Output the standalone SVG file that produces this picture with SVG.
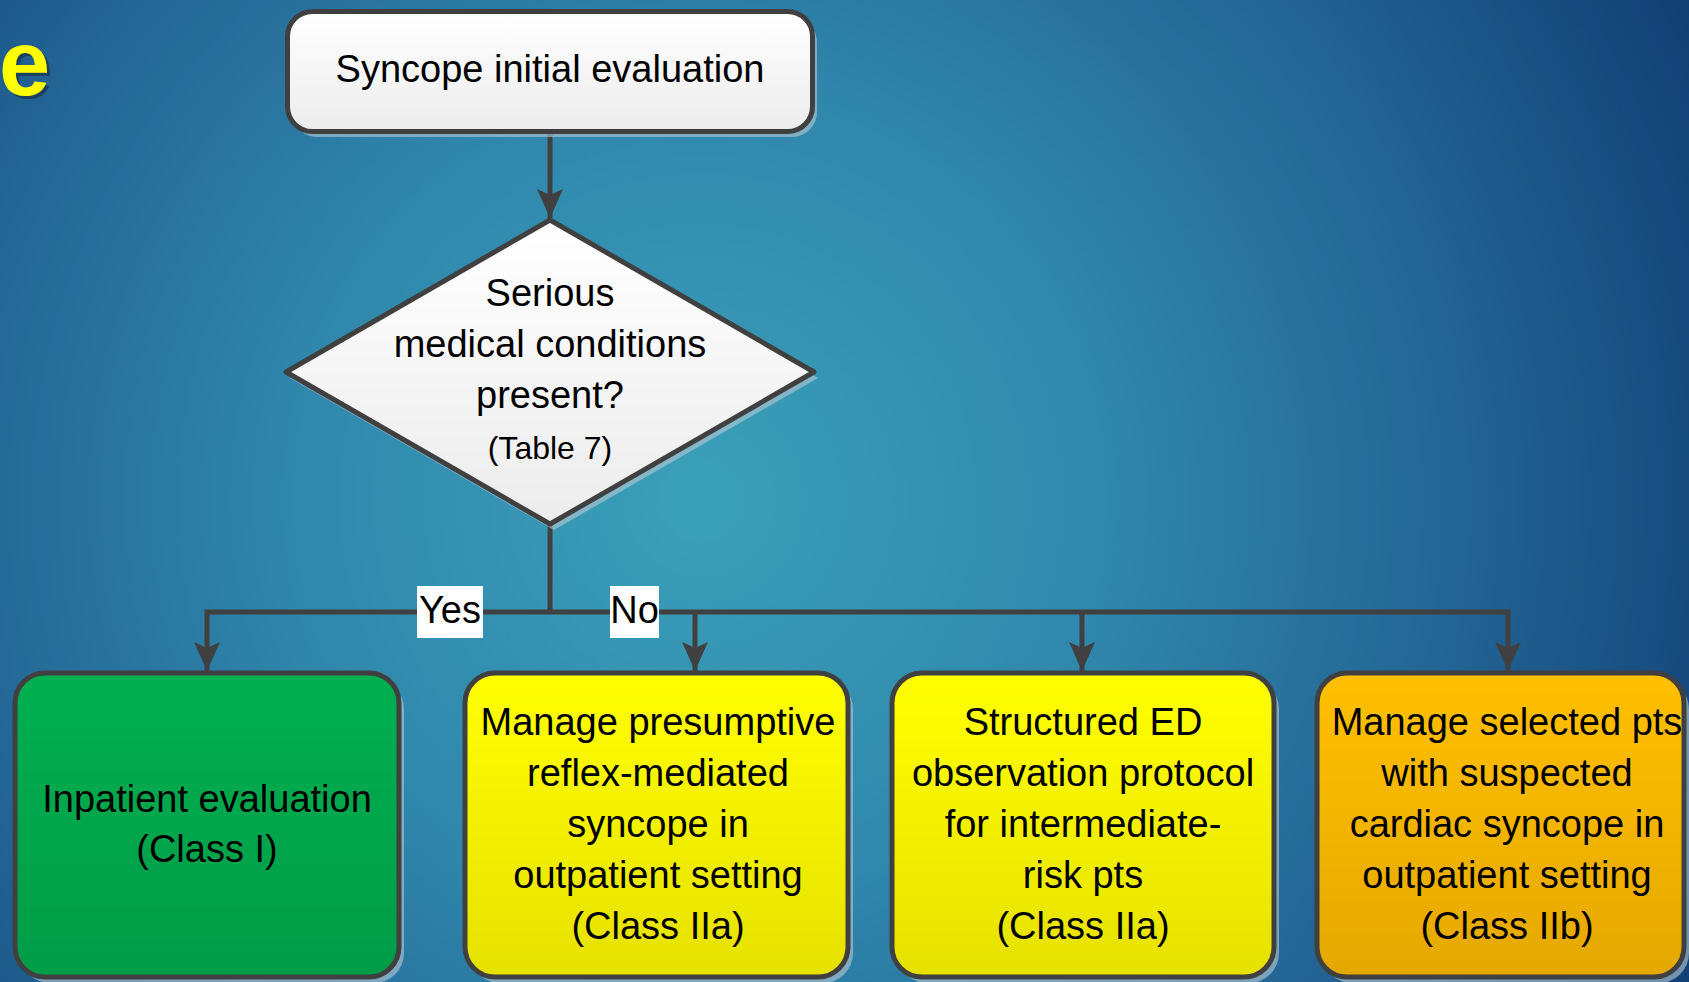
<svg xmlns="http://www.w3.org/2000/svg" width="1689" height="982" viewBox="0 0 1689 982">
<defs>
<radialGradient id="bg" gradientUnits="userSpaceOnUse" cx="700" cy="500" r="1150" fx="700" fy="500">
<stop offset="0" stop-color="#3aa0b8"/>
<stop offset="0.35" stop-color="#3088ad"/>
<stop offset="0.65" stop-color="#236695"/>
<stop offset="1" stop-color="#0f3a70"/>
</radialGradient>
<linearGradient id="gWhite" x1="0" y1="0" x2="0" y2="1">
<stop offset="0" stop-color="#ffffff"/>
<stop offset="1" stop-color="#ececec"/>
</linearGradient>
<linearGradient id="gGreen" x1="0" y1="0" x2="0" y2="1">
<stop offset="0" stop-color="#00b050"/>
<stop offset="1" stop-color="#009c47"/>
</linearGradient>
<linearGradient id="gYellow" x1="0" y1="0" x2="0" y2="1">
<stop offset="0" stop-color="#ffff00"/>
<stop offset="1" stop-color="#e6e100"/>
</linearGradient>
<linearGradient id="gOrange" x1="0" y1="0" x2="0" y2="1">
<stop offset="0" stop-color="#ffc000"/>
<stop offset="1" stop-color="#e5a800"/>
</linearGradient>
<marker id="arrow" markerUnits="userSpaceOnUse" viewBox="0 -13 29 26" refX="29" refY="0" markerWidth="29" markerHeight="26" orient="auto">
<path d="M0,-13 L29,0 L0,13 L6,0 Z" fill="#404040"/>
</marker>
<style>
.shape{stroke:#404040;stroke-width:5;stroke-linejoin:round}
.shadow{fill:#b8cad6;opacity:0.6}
.t{font-family:"Liberation Sans",Arial,sans-serif;font-size:38px;fill:#000;text-anchor:middle}
.small{font-size:32px}
.conn{fill:none;stroke:#404040;stroke-width:5}
.lbl{fill:#ffffff}
</style>
</defs>
<rect x="0" y="0" width="1689" height="982" fill="url(#bg)"/>
<g id="title-fragment">
<text x="2" y="98" font-family="'Liberation Sans',Arial,sans-serif" font-weight="bold" font-size="92" fill="#1a2a40" opacity="0.6">e</text>
<text x="-1" y="95" font-family="'Liberation Sans',Arial,sans-serif" font-weight="bold" font-size="92" fill="#ffff00">e</text>
</g>
<g id="connectors">
<path class="conn" d="M550,134 V218" marker-end="url(#arrow)"/>
<path class="conn" d="M550,524 V612"/>
<path class="conn" d="M550,612 H207 V671" marker-end="url(#arrow)"/>
<path class="conn" d="M550,612 H1508 V671" marker-end="url(#arrow)"/>
<path class="conn" d="M695,612 V671" marker-end="url(#arrow)"/>
<path class="conn" d="M1082,612 V671" marker-end="url(#arrow)"/>
<g id="label-yes">
<rect class="lbl" x="417" y="586" width="66" height="52"/>
<text class="t" x="450" y="623">Yes</text>
</g>
<g id="label-no">
<rect class="lbl" x="610" y="586" width="49" height="52"/>
<text class="t" x="634.5" y="623">No</text>
</g>
</g>
<g id="node-start">
<rect class="shadow" x="292" y="17" width="525" height="120" rx="25"/>
<rect class="shape" x="287.5" y="11.5" width="525" height="120" rx="25" fill="url(#gWhite)"/>
<text class="t" x="550" y="82">Syncope initial evaluation</text>
</g>
<g id="node-decision">
<polygon class="shadow" points="554,226 818,378 554,530 290,378"/>
<polygon class="shape" points="550,220 814,372 550,524 286,372" fill="url(#gWhite)"/>
<text class="t" x="550" y="306">Serious</text>
<text class="t" x="550" y="357">medical conditions</text>
<text class="t" x="550" y="408">present?</text>
<text class="t small" x="550" y="459">(Table 7)</text>
</g>
<g id="node-inpatient">
<rect class="shadow" x="20" y="679" width="384" height="304" rx="30"/>
<rect class="shape" x="15" y="673" width="384" height="304" rx="30" fill="url(#gGreen)"/>
<text class="t" x="207" y="812">Inpatient evaluation</text>
<text class="t" x="207" y="862">(Class I)</text>
</g>
<g id="node-reflex">
<rect class="shadow" x="470" y="679" width="383" height="304" rx="30"/>
<rect class="shape" x="465" y="673" width="383" height="304" rx="30" fill="url(#gYellow)"/>
<text class="t" x="658" y="735">Manage presumptive</text>
<text class="t" x="658" y="786">reflex-mediated</text>
<text class="t" x="658" y="837">syncope in</text>
<text class="t" x="658" y="888">outpatient setting</text>
<text class="t" x="658" y="939">(Class IIa)</text>
</g>
<g id="node-ed">
<rect class="shadow" x="897" y="679" width="382" height="304" rx="30"/>
<rect class="shape" x="892" y="673" width="382" height="304" rx="30" fill="url(#gYellow)"/>
<text class="t" x="1083" y="735">Structured ED</text>
<text class="t" x="1083" y="786">observation protocol</text>
<text class="t" x="1083" y="837">for intermediate-</text>
<text class="t" x="1083" y="888">risk pts</text>
<text class="t" x="1083" y="939">(Class IIa)</text>
</g>
<g id="node-cardiac">
<rect class="shadow" x="1322" y="679" width="367" height="304" rx="30"/>
<rect class="shape" x="1317" y="673" width="367" height="304" rx="30" fill="url(#gOrange)"/>
<text class="t" x="1507" y="735">Manage selected pts</text>
<text class="t" x="1507" y="786">with suspected</text>
<text class="t" x="1507" y="837">cardiac syncope in</text>
<text class="t" x="1507" y="888">outpatient setting</text>
<text class="t" x="1507" y="939">(Class IIb)</text>
</g>
</svg>
